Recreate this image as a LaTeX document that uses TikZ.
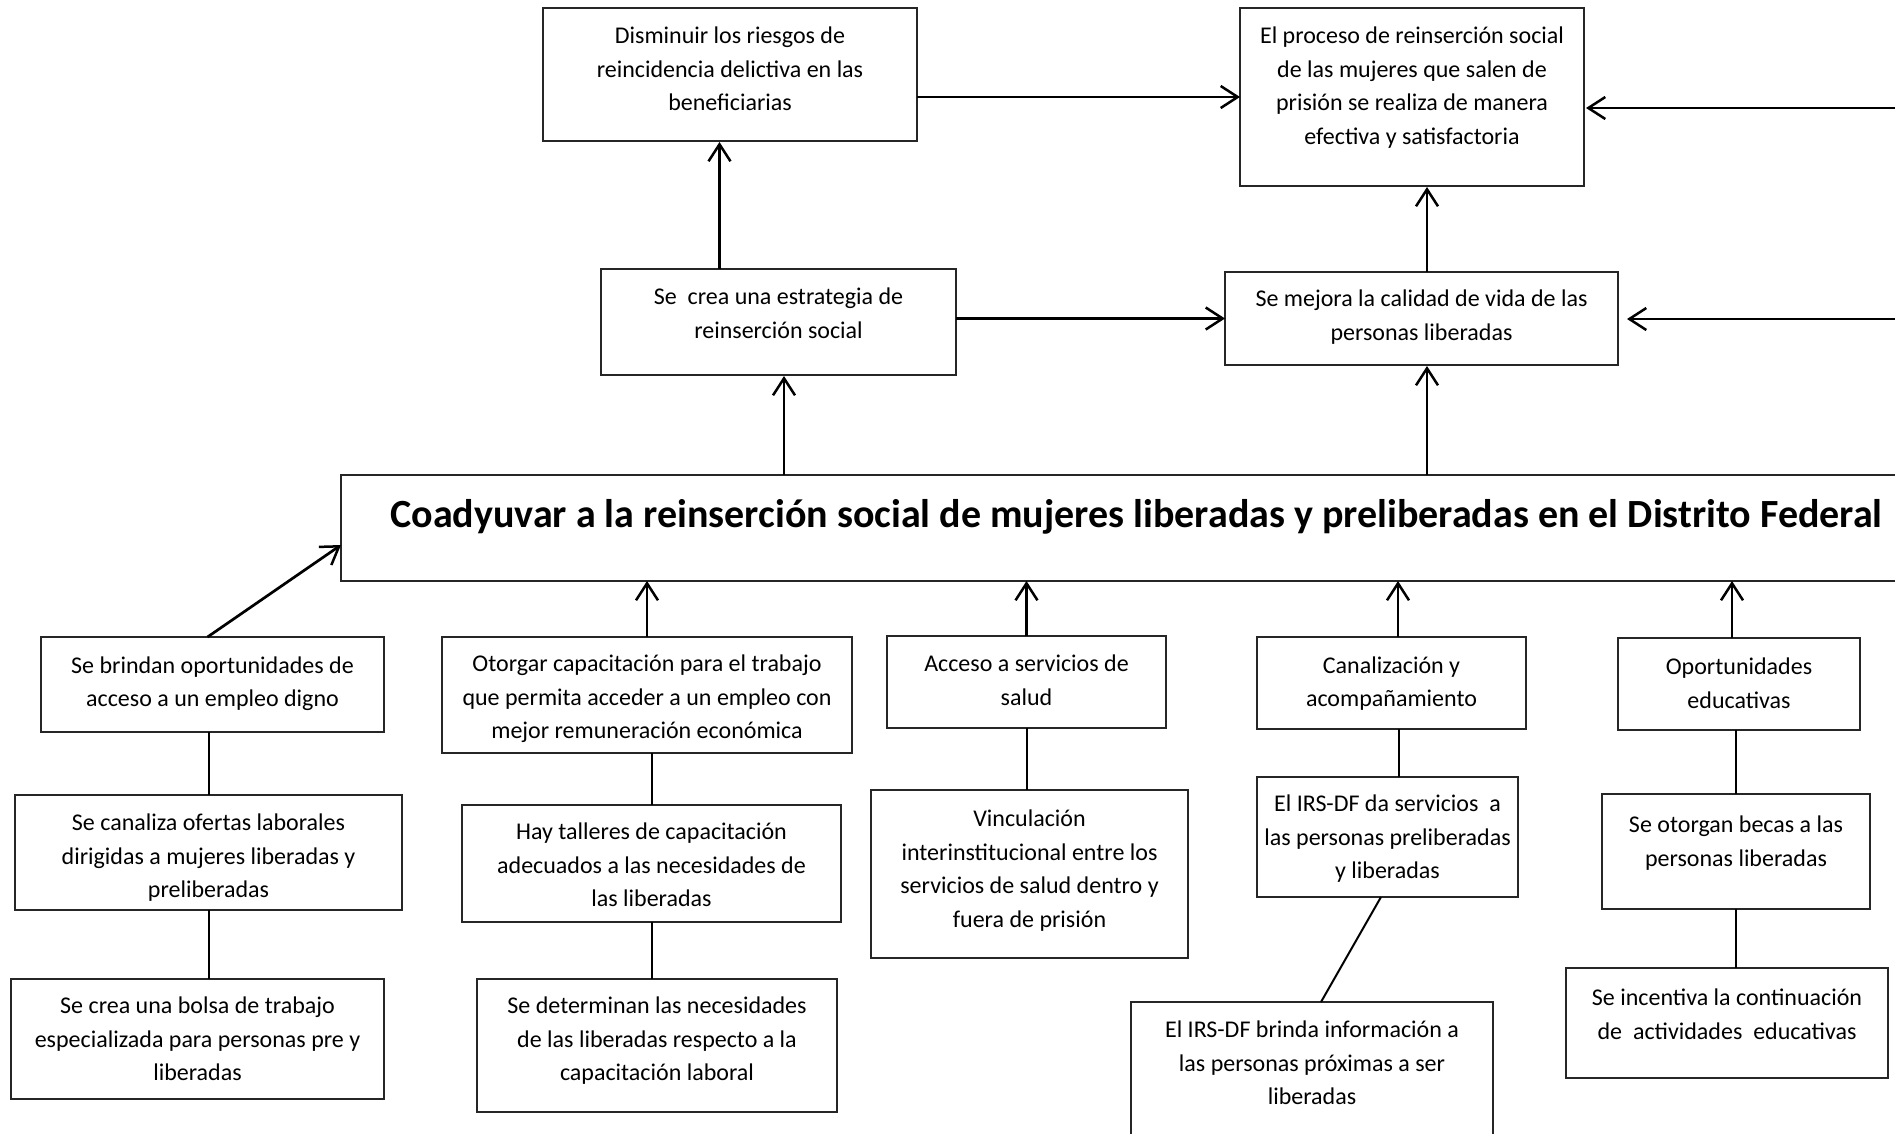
\documentclass[tikz,border=0pt]{standalone}
\usepackage{fontspec}
\setmainfont{Carlito}
\usetikzlibrary{arrows.meta,calc}
\tikzset{
  box/.style={draw=black!85, line width=1.5pt, inner sep=0pt, outer sep=0pt, rectangle},
  txt/.style={font=\fontsize{24}{33.5}\selectfont, align=center, inner sep=0pt,
    execute at begin node={\rule{0pt}{20pt}}},
  arr/.style={line width=2.7pt, -{Straight Barb[length=17pt,width=22pt,line width=2.5pt]}},
  ln/.style={line width=2pt},
}
\newcommand\mybox[7]{%
  \node[box, minimum width={#4pt-#2pt}, minimum height={#5pt-#3pt}] (#1) at ({(#2+#4)/2},{(#3+#5)/2}) {};
  \node[txt, anchor=north] (#1t) at ({(#2+#4)/2},{#6-15}) {#7};
}
\begin{document}
\begin{tikzpicture}[x=1pt,y=-1pt]
\useasboundingbox (0,0) rectangle (1895,1133);
\clip (0,0) rectangle (1895,1133);
\fill[white] (0,0) rectangle (1895,1133);

% top level
\mybox{A}{543}{8}{917}{141}{42}{Disminuir los riesgos de\\reincidencia delictiva en las\\beneficiarias}
\mybox{B}{1240}{8}{1584}{186}{42}{El proceso de reinserción social\\de las mujeres que salen de\\prisión se realiza de manera\\efectiva y satisfactoria}
\mybox{C}{601}{269}{956}{375}{303}{Se\ \ crea una estrategia de\\reinserción social}
\mybox{D}{1225}{272}{1618}{365}{305}{Se mejora la calidad de vida de las\\personas liberadas}

% main
\node[box, minimum width=1559pt, minimum height=106pt] (main) at (1120.5,528) {};
\node[font=\fontsize{40}{48}\selectfont\bfseries, inner sep=0pt, anchor=base] (maint) at (1136.5,527) {Coadyuvar a la reinserción social de mujeres liberadas y preliberadas en el Distrito Federal};

% bottom level 1
\mybox{E}{41}{637}{384}{732}{671.5}{Se brindan oportunidades de\\acceso a un empleo digno}
\mybox{F}{442}{637}{852}{753}{670}{Otorgar capacitación para el trabajo\\que permita acceder a un empleo con\\mejor remuneración económica}
\mybox{G}{887}{636}{1166}{728}{670}{Acceso a servicios de\\salud}
\mybox{H}{1257}{637}{1526}{729}{671.5}{Canalización y\\acompañamiento}
\mybox{I}{1618}{638}{1860}{730}{673}{Oportunidades\\educativas}

% bottom level 2
\mybox{E2}{15}{795}{402}{910}{829}{Se canaliza ofertas laborales\\dirigidas a mujeres liberadas y\\preliberadas}
\mybox{F2}{462}{805}{841}{922}{838}{Hay talleres de capacitación\\adecuados a las necesidades de\\las liberadas}
\mybox{G2}{871}{790}{1188}{958}{825}{Vinculación\\interinstitucional entre los\\servicios de salud dentro y\\fuera de prisión}
\mybox{H2}{1257}{777}{1518}{897}{810}{El IRS-DF da servicios\ \ a\\las personas preliberadas\\y liberadas}
\mybox{I2}{1602}{794}{1870}{909}{831}{Se otorgan becas a las\\personas liberadas}

% bottom level 3
\mybox{E3}{11}{979}{384}{1099}{1012}{Se crea una bolsa de trabajo\\especializada para personas pre y\\liberadas}
\mybox{F3}{477}{979}{837}{1112}{1012}{Se determinan las necesidades\\de las liberadas respecto a la\\capacitación laboral}
\mybox{H3}{1131}{1002}{1493}{1145}{1036}{El IRS-DF brinda información a\\las personas próximas a ser\\liberadas}
\mybox{I3}{1566}{968}{1888}{1078}{1004}{Se incentiva la continuación\\de\ \ actividades\ \ educativas}

% free ends on the right
\coordinate (rB) at (1895,108);
\coordinate (rD) at (1895,319);

% helper points
\coordinate (cx) at ([xshift=-59pt]C.north);
\coordinate (dx) at ([xshift=5.5pt]D.north);
\coordinate (cs) at ([xshift=5.5pt]C.south);
\coordinate (ds) at ([xshift=5.5pt]D.south);
\coordinate (hx) at ([xshift=6.5pt]H.north);
\coordinate (ix) at ([xshift=-7pt]I.north);
\coordinate (hs) at ([xshift=7pt]H.south);

% top arrows
\draw[arr] (B.west -| A.east) -- (B.west);
\draw[arr, shorten >=2pt] (rB) -- (B.east |- rB);
\draw[arr] (D.west -| C.east) -- (D.west);
\draw[arr, shorten >=9pt] (rD) -- (D.east |- rD);
\draw[arr, shorten >=1pt] (cx) -- (cx |- A.south);
\draw[arr, shorten >=1pt] (dx) -- (dx |- B.south);
\draw[arr, shorten >=1pt] (cs |- main.north) -- (cs);
\draw[arr, shorten >=1pt] (ds |- main.north) -- (ds);

% bottom arrows
\draw[arr] ([xshift=-5pt]E.north) -- ([yshift=-17pt]main.west);
\draw[arr] (F.north) -- (F.north |- main.south);
\draw[arr] (G.north) -- (G.north |- main.south);
\draw[arr] (hx) -- (hx |- main.south);
\draw[arr] (ix) -- (ix |- main.south);

% plain links
\draw[ln] (E2.north |- E.south) -- (E2.north);
\draw[ln] (E2.south) -- (E2.south |- E3.north);
\draw[ln] (F2.north |- F.south) -- (F2.north);
\draw[ln] (F2.south) -- (F2.south |- F3.north);
\draw[ln] (G.south) -- (G.south |- G2.north);
\draw[ln] (hs) -- (hs |- H2.north);
\draw[ln] ([xshift=-6.5pt]H2.south) -- ([xshift=9pt]H3.north);
\draw[ln] (I2.north |- I.south) -- (I2.north);
\draw[ln] (I2.south) -- (I2.south |- I3.north);
\end{tikzpicture}
\end{document}
